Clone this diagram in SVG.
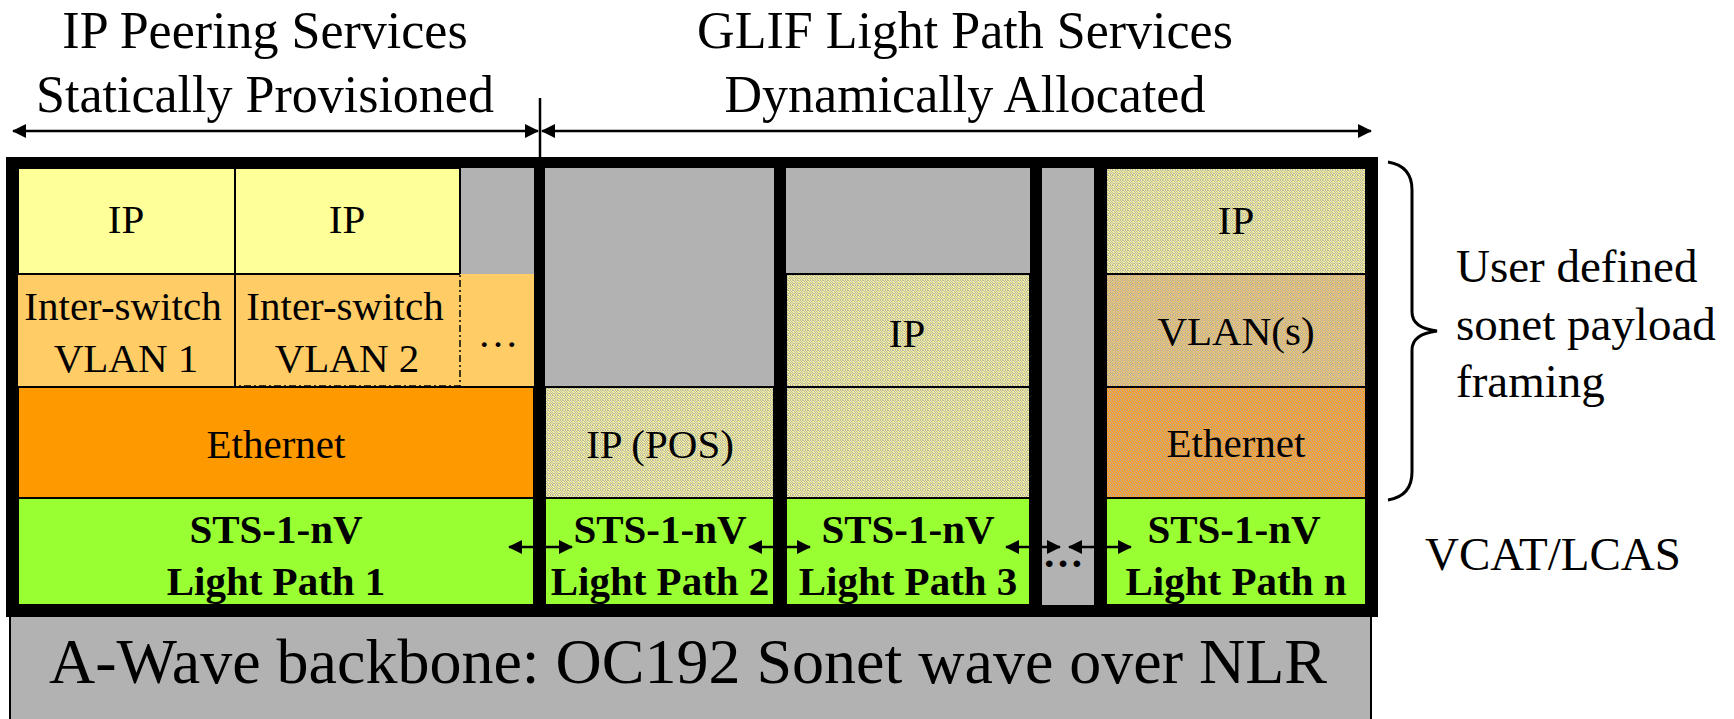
<svg xmlns="http://www.w3.org/2000/svg" width="1734" height="719" viewBox="0 0 1734 719">
<style>
text{font-family:"Liberation Serif","Times New Roman",serif;fill:#000}
.t{font-size:52px;text-anchor:middle}
.c{font-size:41px;text-anchor:middle}
.b{font-size:41px;font-weight:bold;text-anchor:middle}
.r{font-size:47px}
.cell{stroke:#000;stroke-width:2}
.ln{stroke:#000;stroke-width:3;fill:none}
</style>
<defs>
<pattern id="tY" width="5" height="5" patternUnits="userSpaceOnUse">
<rect width="5" height="5" fill="#fbf794"/>
<path fill="#b4b4ac" d="M0 0h1v1H0zM2 0h2v1H2zM1 1h1v1H1zM4 1h1v1H4zM0 2h1v1H0zM2 2h1v1H2zM3 3h2v1H3zM1 3h1v1H1zM0 4h1v1H0zM2 4h1v1H2z"/>
</pattern>
<pattern id="tO" width="5" height="5" patternUnits="userSpaceOnUse">
<rect width="5" height="5" fill="#f8c868"/>
<path fill="#b4b0a8" d="M0 0h1v1H0zM2 0h2v1H2zM1 1h1v1H1zM4 1h1v1H4zM0 2h1v1H0zM2 2h1v1H2zM3 3h2v1H3zM1 3h1v1H1zM0 4h1v1H0zM2 4h1v1H2z"/>
</pattern>
<pattern id="tE" width="5" height="5" patternUnits="userSpaceOnUse">
<rect width="5" height="5" fill="#f8a030"/>
<path fill="#b8a898" d="M0 0h1v1H0zM3 0h1v1H3zM1 1h1v1H1zM4 2h1v1H4zM2 2h1v1H2zM0 3h1v1H0zM3 4h1v1H3zM1 4h1v1H1z"/>
</pattern>
<marker id="ah" viewBox="0 0 14 14" refX="13" refY="7" markerWidth="14" markerHeight="14" markerUnits="userSpaceOnUse" orient="auto-start-reverse">
<path d="M0 0L14 7L0 14z" fill="#000"/>
</marker>
</defs>

<g id="titles">
<text class="t" x="265" y="48">IP Peering Services</text>
<text class="t" x="265" y="112">Statically Provisioned</text>
<text class="t" x="965" y="48">GLIF Light Path Services</text>
<text class="t" x="965" y="112">Dynamically Allocated</text>
</g>

<g id="backbone">
<rect x="10" y="612" width="1361" height="120" fill="#b2b2b2" stroke="#000" stroke-width="2"/>
<text x="688" y="683" style="font-size:64px;text-anchor:middle">A-Wave backbone: OC192 Sonet wave over NLR</text>
</g>

<g id="frame">
<rect x="6" y="157" width="1372" height="460" fill="#000"/>
</g>

<g id="col1">
<rect class="cell" x="18" y="168" width="217" height="106" fill="#ffff99"/>
<rect class="cell" x="235" y="168" width="225" height="106" fill="#ffff99"/>
<rect x="461" y="168" width="73" height="106" fill="#b2b2b2"/>
<rect x="18" y="274" width="516" height="113" fill="#ffcc66"/>
<line class="cell" x1="18" y1="274" x2="460" y2="274"/>
<line class="cell" x1="235" y1="274" x2="235" y2="387"/>
<path d="M235 275V386H460V275" fill="none" stroke="#000" stroke-width="1.5" stroke-dasharray="7 3 2 3"/>
<rect class="cell" x="18" y="387" width="516" height="111" fill="#ff9900"/>
<rect class="cell" x="18" y="498" width="516" height="107" fill="#99ff33"/>
<text class="c" x="126" y="233">IP</text>
<text class="c" x="347" y="233">IP</text>
<text class="c" x="123" y="320">Inter-switch</text>
<text class="c" x="126" y="372">VLAN 1</text>
<text class="c" x="345" y="320">Inter-switch</text>
<text class="c" x="347" y="372">VLAN 2</text>
<text class="c" x="498" y="347">…</text>
<text class="c" x="276" y="458">Ethernet</text>
<text class="b" x="276" y="543">STS-1-nV</text>
<text class="b" x="276" y="595">Light Path 1</text>
</g>

<g id="col2">
<rect x="545" y="168" width="229" height="219" fill="#b2b2b2"/>
<rect class="cell" x="545" y="387" width="229" height="111" fill="url(#tY)"/>
<rect class="cell" x="545" y="498" width="229" height="107" fill="#99ff33"/>
<text class="c" x="660" y="458">IP (POS)</text>
<text class="b" x="660" y="543">STS-1-nV</text>
<text class="b" x="660" y="595">Light Path 2</text>
</g>

<g id="col3">
<rect x="786" y="168" width="244" height="106" fill="#b2b2b2"/>
<rect class="cell" x="786" y="274" width="244" height="113" fill="url(#tY)"/>
<rect class="cell" x="786" y="387" width="244" height="111" fill="url(#tY)"/>
<rect class="cell" x="786" y="498" width="244" height="107" fill="#99ff33"/>
<text class="c" x="907" y="347">IP</text>
<text class="b" x="908" y="543">STS-1-nV</text>
<text class="b" x="908" y="595">Light Path 3</text>
</g>

<g id="colgap">
<rect x="1042" y="168" width="52" height="437" fill="#b2b2b2"/>
<text class="b" x="1063" y="567">…</text>
</g>

<g id="coln">
<rect class="cell" x="1106" y="168" width="260" height="106" fill="url(#tY)"/>
<rect class="cell" x="1106" y="274" width="260" height="113" fill="url(#tO)"/>
<rect class="cell" x="1106" y="387" width="260" height="111" fill="url(#tE)"/>
<rect class="cell" x="1106" y="498" width="260" height="107" fill="#99ff33"/>
<text class="c" x="1236" y="234">IP</text>
<text class="c" x="1236" y="345">VLAN(s)</text>
<text class="c" x="1236" y="457">Ethernet</text>
<text class="b" x="1234" y="543">STS-1-nV</text>
<text class="b" x="1236" y="595">Light Path n</text>
</g>

<g id="labels">
<path class="ln" d="M1388 162Q1412 166 1412 190V312Q1412 328 1437 331Q1412 334 1412 350V472Q1412 496 1388 500"/>
<text class="r" x="1456" y="282">User defined</text>
<text class="r" x="1456" y="340">sonet payload</text>
<text class="r" x="1456" y="397">framing</text>
<text class="r" x="1425" y="570">VCAT/LCAS</text>
</g>

<g id="connectors" stroke="#000" stroke-width="2.5" fill="none">
<line x1="13" y1="131" x2="538" y2="131" marker-start="url(#ah)" marker-end="url(#ah)"/>
<line x1="540" y1="98" x2="540" y2="158"/>
<line x1="542" y1="131" x2="1371" y2="131" marker-start="url(#ah)" marker-end="url(#ah)"/>
<line x1="509" y1="547" x2="572" y2="547" marker-start="url(#ah)" marker-end="url(#ah)"/>
<line x1="749" y1="547" x2="810" y2="547" marker-start="url(#ah)" marker-end="url(#ah)"/>
<line x1="1006" y1="547" x2="1060" y2="547" marker-start="url(#ah)" marker-end="url(#ah)"/>
<line x1="1069" y1="547" x2="1131" y2="547" marker-start="url(#ah)" marker-end="url(#ah)"/>
</g>
</svg>
